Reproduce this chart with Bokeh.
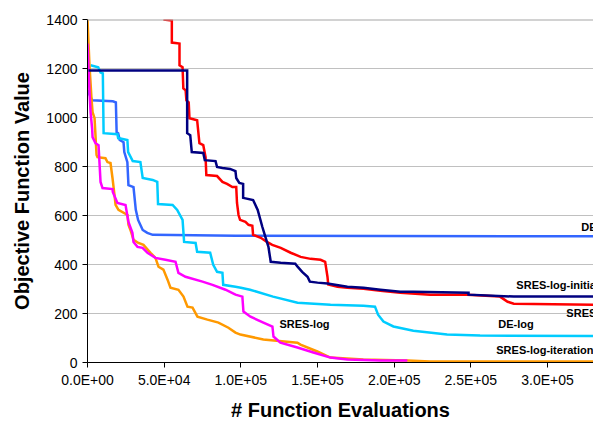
from bokeh.plotting import figure
from bokeh.models import FixedTicker, Label, Span
from bokeh.embed import file_html
from bokeh.resources import INLINE

# ---------------- data (x = function evaluations, y = objective value) -------------
de_x = [0, 3000, 16500, 18500, 19000, 20000, 21000, 23500, 24000, 26000, 26700, 30000,
        31500, 33000, 36000, 39000, 42500, 96500, 330000]
de_y = [1111, 1070, 1066, 1062, 940, 936, 908, 899, 859, 818, 724, 716,
        623, 582, 541, 529, 521, 517, 515]

delog_x = [2000, 7000, 8500, 10000, 10500, 19500, 20000, 26000, 26500, 29500, 34500, 36000,
           42500, 45500, 46000, 55500, 58500, 62000, 63000, 70500, 71500, 80000, 82000, 84500,
           88000, 88500, 96500, 100000, 106000, 121000, 137000, 158500, 180000, 187500, 189500,
           193000, 199500, 212500, 234500, 256000, 330000]
delog_y = [1213, 1205, 1184, 1180, 936, 932, 916, 908, 859, 822, 818, 753,
           745, 737, 647, 643, 623, 582, 492, 488, 452, 448, 399, 370,
           366, 317, 309, 305, 297, 269, 244, 236, 232, 228, 195,
           167, 147, 130, 114, 110, 108]

iter_x = [0, 1300, 2600, 3300, 4600, 5900, 6500, 11700, 13000, 15000, 16300, 17600, 18300,
          20200, 26100, 26700, 28000, 30000, 33200, 36500, 41100, 44300, 46300, 49500, 52200,
          54100, 59300, 62600, 65200, 68500, 71700, 78200, 85400, 91900, 96500, 99700, 114700,
          136900, 138900, 149900, 158400, 179900, 208600, 223600, 330000]
iter_y = [1400, 1213, 1078, 1022, 997, 847, 838, 834, 818, 814, 753, 684, 643,
          623, 602, 562, 541, 501, 488, 480, 448, 427, 391, 379, 338,
          305, 297, 269, 228, 224, 187, 175, 163, 142, 122, 114, 94,
          81, 73, 45, 20, 12, 8, 4, 4]

sreslog_x = [0, 1300, 2000, 3000, 3300, 5200, 7200, 8500, 9800, 16300, 16500, 19500, 24800,
             26700, 29300, 30000, 32600, 35900, 39100, 44300, 50800, 57400, 59300, 63900,
             75000, 81500, 90000, 96500, 101000, 101700, 106300, 114700, 120600, 121300,
             125800, 136900, 147300, 158400, 169500, 191000, 208600]
sreslog_y = [1302, 1103, 1022, 956, 920, 895, 887, 737, 712, 708, 696, 651, 643,
             574, 529, 492, 472, 468, 448, 427, 419, 411, 366, 350,
             330, 317, 297, 277, 269, 208, 187, 163, 147, 106,
             81, 61, 41, 20, 12, 8, 8]

sres_x = [49500, 55000, 55000, 60000, 60000, 62000, 62500, 64000, 64500, 66000, 66500, 71500,
          73000, 75500, 77000, 77500, 84500, 88000, 91000, 94500, 97000, 97500, 98500, 99500,
          103000, 105000, 107500, 108000, 113000, 117000, 120500, 126000, 132500, 139000,
          145500, 152000, 155000, 156500, 157000, 163000, 169500, 180000, 191000, 204000,
          223500, 247500, 269000, 274000, 278000, 330000]
sres_y = [1400, 1396, 1306, 1302, 1213, 1205, 1119, 1111, 1070, 1062, 997, 989,
          895, 887, 838, 765, 761, 737, 729, 716, 716, 651, 602, 582,
          574, 562, 558, 521, 509, 492, 480, 468, 448, 431,
          423, 419, 411, 350, 318, 309, 305, 301, 293, 285,
          277, 277, 269, 248, 240, 236]

init_x = [650, 65000, 65000, 67000, 68000, 75500, 76500, 83500, 84500, 88000, 93000, 96500,
          97000, 99000, 101500, 101500, 108000, 111000, 114000, 116000, 118000, 119500,
          126000, 135500, 137000, 140000, 143500, 145000, 150000, 156500, 169500, 180000,
          191000, 204000, 212500, 248500, 248500, 278000, 330000]
init_y = [1192, 1192, 936, 928, 859, 855, 826, 822, 798, 794, 790, 781,
          753, 733, 729, 672, 663, 623, 554, 513, 472, 411,
          407, 403, 391, 370, 350, 330, 326, 322, 309, 305,
          297, 289, 289, 285, 277, 269, 269]

series_names = ["DE", "DE-log", "SRES-log-iteration", "SRES-log", "SRES", "SRES-log-initial"]

label_names = ["DE", "SRES-log-initial", "SRES", "DE-log", "SRES-log-iteration", "SRES-log"]
label_x = [322000, 279700, 312300, 267900, 266600, 125200]
label_y = [553, 317, 203, 159, 49, 159]

x_tick_vals = [0, 50000, 100000, 150000, 200000, 250000, 300000]
x_tick_labels = ["0.0E+00", "5.0E+04", "1.0E+05", "1.5E+05", "2.0E+05", "2.5E+05", "3.0E+05"]
y_tick_vals = [0, 200, 400, 600, 800, 1000, 1200, 1400]

# ---------------- figure -------------
FONT = "Liberation Sans"

p = figure(width=593, height=423, x_range=(0, 330000), y_range=(0, 1400),
           output_backend="svg", toolbar_location=None,
           min_border_left=87, min_border_right=0, min_border_top=19, min_border_bottom=60)
p.outline_line_color = None
p.background_fill_color = "white"
p.border_fill_color = "white"

p.xgrid.grid_line_color = None
p.ygrid.grid_line_color = "#C0C0C0"
p.ygrid.grid_line_width = 1

top_line = Span(location=1400, dimension="width", line_color="#A6A6A6", line_width=2)
p.add_layout(top_line)

colors = {
    "DE": "#3366FF",
    "DE-log": "#00CCFF",
    "SRES-log-iteration": "#FF9900",
    "SRES-log": "#FF00FF",
    "SRES": "#FF0000",
    "SRES-log-initial": "#000080",
}
data = {
    "DE": (de_x, de_y),
    "DE-log": (delog_x, delog_y),
    "SRES-log-iteration": (iter_x, iter_y),
    "SRES-log": (sreslog_x, sreslog_y),
    "SRES": (sres_x, sres_y),
    "SRES-log-initial": (init_x, init_y),
}
for name in series_names:
    xs, ys = data[name]
    p.line(xs, ys, line_color=colors[name], line_width=2.5, line_join="miter")

for t, lx, ly in zip(label_names, label_x, label_y):
    p.add_layout(Label(x=lx, y=ly, text=t, text_font=FONT, text_font_style="bold",
                       text_font_size="11px", text_color="black",
                       text_baseline="middle", text_align="left"))

# axes
p.xaxis.ticker = FixedTicker(ticks=x_tick_vals)
p.xaxis.major_label_overrides = {v: l for v, l in zip(x_tick_vals, x_tick_labels)}
p.yaxis.ticker = FixedTicker(ticks=y_tick_vals)
for ax in (p.xaxis[0], p.yaxis[0]):
    ax.axis_line_color = "black"
    ax.axis_line_width = 1
    ax.major_tick_line_color = "black"
    ax.major_tick_out = 5
    ax.major_tick_in = 0
    ax.minor_tick_line_color = None
    ax.major_label_text_font = FONT
    ax.major_label_text_font_size = "14px"
    ax.major_label_text_color = "black"
    ax.axis_label_text_font = FONT
    ax.axis_label_text_font_style = "bold"
    ax.axis_label_text_font_size = "20px"
    ax.axis_label_text_color = "black"

p.xaxis.axis_label = "# Function Evaluations"
p.yaxis.axis_label = "Objective Function Value"
p.xaxis.major_label_standoff = 4
p.xaxis.axis_label_standoff = 8
p.yaxis.major_label_standoff = 5
p.yaxis.axis_label_standoff = 10

open("out.html", "w").write(file_html(p, INLINE))
